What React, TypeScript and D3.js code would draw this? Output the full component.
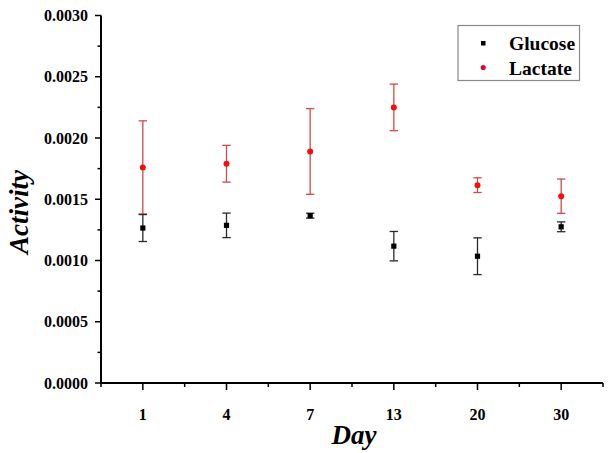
import React from "react";
import * as d3 from "d3";

const WIDTH = 612;
const HEIGHT = 453;
const MARGIN = { top: 15.5, right: 9, bottom: 70, left: 101 };

const days = ["1", "4", "7", "13", "20", "30"];
const glucose = [0.001265, 0.001287, 0.001366, 0.001117, 0.001035, 0.001275];
const glucoseErr = [0.00011, 0.0001, 0.00002, 0.00012, 0.00015, 0.00004];
const lactate = [0.00176, 0.00179, 0.00189, 0.00225, 0.001615, 0.001525];
const lactateErr = [0.00038, 0.00015, 0.00035, 0.00019, 0.00006, 0.00014];
const yTicks = [0, 0.0005, 0.001, 0.0015, 0.002, 0.0025, 0.003];
const yMinor = [0.00025, 0.00075, 0.00125, 0.00175, 0.00225, 0.00275];

const SERIF = { fontFamily: "Liberation Serif" };
const RED = "#f01010";
const RED_BAR = "#d24a4a";

const App = () => {
  const boundsWidth = WIDTH - MARGIN.left - MARGIN.right;
  const boundsHeight = HEIGHT - MARGIN.top - MARGIN.bottom;

  const xScale = d3.scaleBand().domain(days).range([0, boundsWidth]).padding(0);
  const yScale = d3.scaleLinear().domain([0, 0.003]).range([boundsHeight, 0]);
  const cx = (d: string) => (xScale(d) ?? 0) + xScale.bandwidth() / 2;
  const cap = 4.2;

  const errorBars = (vals: number[], errs: number[], color: string) =>
    days.map((d, i) => {
      const x = cx(d);
      const y1 = yScale(vals[i] + errs[i]);
      const y2 = yScale(vals[i] - errs[i]);
      return (
        <g key={d} stroke={color} strokeWidth={1.3}>
          <line x1={x} x2={x} y1={y1} y2={y2} />
          <line x1={x - cap} x2={x + cap} y1={y1} y2={y1} />
          <line x1={x - cap} x2={x + cap} y1={y2} y2={y2} />
        </g>
      );
    });

  // minor x ticks sit on the band edges
  const xMinor = [...days.map((d) => xScale(d) ?? 0), boundsWidth];

  return (
    <div style={{ position: "absolute", left: 0, top: 0 }}>
      <svg width={WIDTH} height={HEIGHT} style={{ display: "block", background: "#fff" }}>
        <g transform={`translate(${MARGIN.left},${MARGIN.top})`}>
          {yTicks.map((t) => (
            <g key={t}>
              <line x1={-6} x2={0} y1={yScale(t)} y2={yScale(t)} stroke="#000" strokeWidth={1.5} />
              <text
                x={-13}
                y={yScale(t)}
                dy="0.35em"
                textAnchor="end"
                fontSize={16}
                fontWeight="bold"
                style={SERIF}
              >
                {t.toFixed(4)}
              </text>
            </g>
          ))}
          {yMinor.map((t) => (
            <line key={t} x1={-3.5} x2={0} y1={yScale(t)} y2={yScale(t)} stroke="#000" strokeWidth={1.5} />
          ))}
          {days.map((d) => (
            <g key={d}>
              <line x1={cx(d)} x2={cx(d)} y1={boundsHeight} y2={boundsHeight + 7} stroke="#000" strokeWidth={1.5} />
              <text
                x={cx(d)}
                y={boundsHeight + 37}
                textAnchor="middle"
                fontSize={16}
                fontWeight="bold"
                style={SERIF}
              >
                {d}
              </text>
            </g>
          ))}
          {xMinor.map((x, i) => (
            <line key={i} x1={x} x2={x} y1={boundsHeight} y2={boundsHeight + 4} stroke="#000" strokeWidth={1.5} />
          ))}
          <line x1={0} x2={0} y1={0} y2={boundsHeight} stroke="#000" strokeWidth={2} />
          <line x1={-1} x2={boundsWidth} y1={boundsHeight} y2={boundsHeight} stroke="#000" strokeWidth={2} />

          {errorBars(lactate, lactateErr, RED_BAR)}
          {errorBars(glucose, glucoseErr, "#2a2a2a")}

          {days.map((d, i) => (
            <rect
              key={`g${d}`}
              x={cx(d) - 2.6}
              y={yScale(glucose[i]) - 2.6}
              width={5.2}
              height={5.2}
              fill="#000"
            />
          ))}
          {days.map((d, i) => (
            <circle key={`l${d}`} cx={cx(d)} cy={yScale(lactate[i])} r={3} fill={RED} />
          ))}
        </g>

        <text
          transform="translate(28,212) rotate(-90)"
          textAnchor="middle"
          fontSize={27}
          fontWeight="bold"
          fontStyle="italic"
          style={SERIF}
        >
          Activity
        </text>
        <text
          x={354}
          y={444}
          textAnchor="middle"
          fontSize={27}
          fontWeight="bold"
          fontStyle="italic"
          style={SERIF}
        >
          Day
        </text>

        <g>
          <rect x={458} y={25.5} width={121.5} height={55} fill="#fff" stroke="#888" strokeWidth={1.2} />
          <rect x={481} y={41} width={4.5} height={4.5} fill="#000" />
          <circle cx={483.2} cy={67.5} r={2.6} fill="#d0102a" />
          <text x={509} y={49.5} fontSize={19.5} fontWeight="bold" style={SERIF}>
            Glucose
          </text>
          <text x={509} y={74.5} fontSize={19.5} fontWeight="bold" style={SERIF}>
            Lactate
          </text>
        </g>
      </svg>
    </div>
  );
};

export default App;
